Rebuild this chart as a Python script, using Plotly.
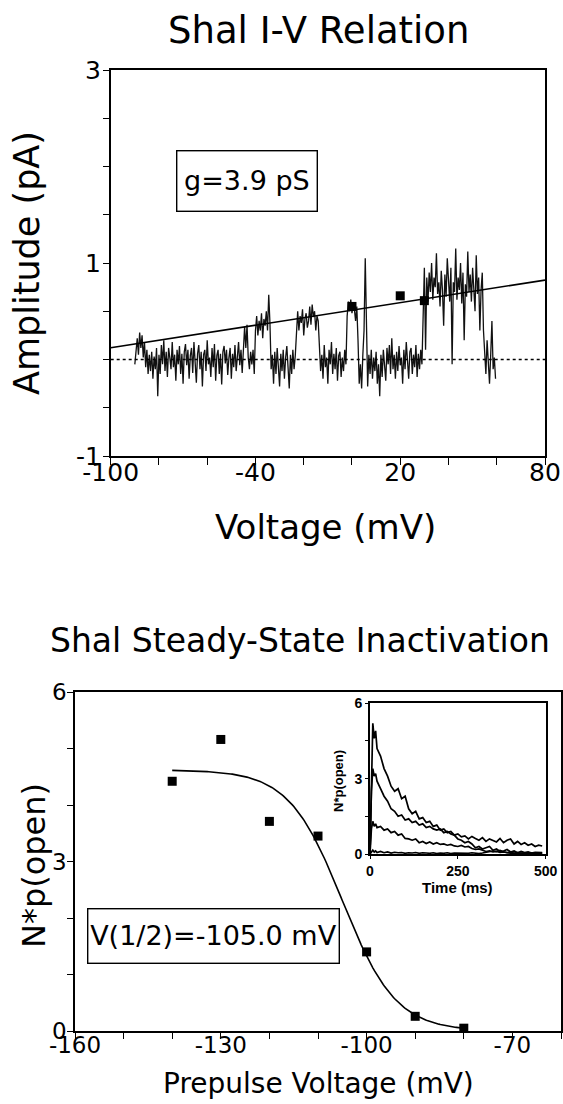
import numpy as np
import plotly.graph_objects as go

W, H = 563, 1104

# ---------------- Top panel data: Shal I-V relation ----------------
G_PS = 3.9            # slope conductance (pS) of fitted line
V_REV = -131.0        # extrapolated reversal (mV) of fitted line
FIT_V_RANGE = [-100, 80]

iv_points_v = [0, 20, 30]
iv_points_amp = [0.55, 0.66, 0.61]

# single-channel ramp trace, segments: (V start, V end, amplitudes)
trace_segments = [
    (-90.0, -79.5, [-0.05, 0.10, 0.22, 0.05, 0.28, 0.12, 0.25, 0.02, 0.18, -0.08, 0.10,
                    -0.15, 0.05, -0.12, 0.08, -0.20, 0.03, -0.10, 0.12, -0.38, 0.05, -0.15]),
    (-79.0, -45.5, [0.15, -0.05, 0.20, -0.12, 0.08, -0.18, 0.12, 0.02, -0.10, 0.18, -0.08, 0.05,
                    -0.22, 0.10, -0.05, 0.14, -0.15, 0.06, -0.25, 0.08, 0.16, -0.06, 0.10, -0.20,
                    0.04, 0.12, -0.14, 0.18, -0.02, -0.24, 0.06, 0.15, -0.10, 0.08, -0.28, 0.05,
                    0.10, -0.12, 0.20, -0.05, 0.02, -0.18, 0.12, -0.08, 0.16, -0.22, 0.04, 0.10,
                    -0.15, 0.06, -0.26, 0.08, 0.14, -0.04, 0.10, -0.16, 0.02, 0.12, -0.20, 0.06,
                    -0.08, 0.15, -0.12, 0.04, 0.18, -0.06, 0.10, -0.14]),
    (-45.0, -42.0, [0.05, 0.34, 0.12, 0.36, 0.02, -0.10, 0.08]),
    (-41.5, -40.5, [-0.05, 0.10, -0.15]),
    (-40.0, -34.0, [0.30, 0.45, 0.25, 0.40, 0.30, 0.48, 0.22, 0.42, 0.35, 0.50, 0.30, 0.67, 0.38]),
    (-33.5, -23.5, [-0.10, 0.05, -0.25, 0.08, -0.15, 0.12, -0.05, -0.28, 0.06, -0.12, 0.10,
                    -0.20, 0.02, 0.14, -0.08, -0.30, 0.05, -0.15, 0.10, -0.10, 0.04]),
    (-23.0, -14.0, [0.35, 0.50, 0.30, 0.45, 0.38, 0.52, 0.25, 0.42, 0.48, 0.33, 0.40, 0.55,
                    0.36, 0.57, 0.44, 0.50, 0.30, 0.45, 0.40]),
    (-13.5, -2.5, [0.10, -0.12, 0.05, -0.20, 0.15, -0.08, 0.02, -0.25, 0.10, -0.05, 0.18, -0.15,
                   0.06, -0.10, 0.12, -0.22, 0.04, 0.08, -0.18, 0.02, -0.12, 0.10, -0.05]),
    (-2.0, 2.5, [0.45, 0.60, 0.50, 0.62, 0.48, 0.58, 0.52, 0.40, 0.55, 0.20]),
    (3.0, 4.5, [-0.25, -0.05, -0.30, 0.05]),
    (5.0, 6.5, [0.30, 1.05, 0.20, -0.28]),
    (7.0, 29.0, [0.05, -0.15, 0.10, -0.20, 0.02, -0.12, 0.08, -0.25, -0.05, -0.38, 0.05, -0.18,
                 0.10, -0.08, -0.22, 0.12, -0.05, 0.15, -0.15, 0.22, -0.10, 0.05, -0.20, 0.08,
                 -0.12, 0.14, -0.06, 0.02, -0.25, 0.10, -0.10, 0.18, -0.05, -0.20, 0.08, 0.12,
                 -0.15, 0.05, -0.08, 0.15, -0.18, 0.06, -0.10, 0.10, -0.05]),
    (29.5, 54.0, [0.55, 0.95, 0.10, 0.85, 0.60, 0.90, 0.70, 1.00, 0.62, 0.85, 0.75, 1.10, 0.68,
                  0.80, 0.55, 0.92, 0.72, 0.35, 0.88, 0.65, 1.05, 0.75, 0.60, 0.95, -0.05, 0.80,
                  0.70, 1.15, 0.62, 0.85, 0.72, 1.00, 0.58, 0.90, 0.20, 0.78, 0.65, 1.12, 0.70,
                  0.88, 0.60, 0.95, 0.75, 0.50, 1.08, 0.68, 0.85, 0.30, 0.72, 0.90]),
    (54.5, 59.5, [0.30, 0.10, -0.15, 0.20, -0.05, -0.25, 0.05, 0.40, -0.10, 0.02, -0.20]),
]

iv_xticks = [-100, -80, -60, -40, -20, 0, 20, 40, 60, 80]
iv_xticktext = ["-100", "", "", "-40", "", "", "20", "", "", "80"]
iv_yticks = [-1, -0.5, 0, 0.5, 1, 1.5, 2, 2.5, 3]
iv_yticktext = ["-1", "", "", "", "1", "", "", "", "3"]

# ---------------- Bottom panel data: steady-state inactivation ----------------
prepulse_v = [-140, -130, -120, -110, -100, -90, -80]
np_open = [4.42, 5.16, 3.71, 3.45, 1.40, 0.26, 0.05]
V_HALF = -105.0
SLOPE_K = 5.5
N_MAX = 4.62
FIT_RANGE = [-140, -80]

ss_xticks = [-160, -150, -140, -130, -120, -110, -100, -90, -80, -70, -60]
ss_xticktext = ["-160", "", "", "-130", "", "", "-100", "", "", "-70", ""]
ss_yticks = [0, 1, 2, 3, 4, 5, 6]
ss_yticktext = ["0", "", "", "3", "", "", "6"]

# ---------------- Inset data: N*p(open) vs time ----------------
inset_t = [0, 4, 8, 12, 16] + list(range(20, 500, 10))
inset_a = [0.0, 3.5, 5.2, 4.6, 4.9, 4.2, 3.9, 3.4, 3.1, 2.7, 2.5, 2.6, 2.2, 2.3, 1.8, 1.6, 1.7,
           1.4, 1.45, 1.25, 1.3, 1.1, 1.15, 0.95, 1.0, 0.85, 0.9, 0.75, 0.8, 0.68, 0.72, 0.6,
           0.7, 0.62, 0.55, 0.65, 0.5, 0.6, 0.55, 0.48, 0.62, 0.45, 0.55, 0.6, 0.4, 0.5, 0.38,
           0.45, 0.35, 0.4, 0.3, 0.35, 0.32]
inset_b = [0.0, 2.5, 3.4, 3.1, 3.2, 2.9, 2.6, 2.3, 2.1, 1.8, 1.7, 1.5, 1.55, 1.35, 1.4, 1.25,
           1.3, 1.15, 1.2, 1.05, 1.1, 1.0, 0.95, 1.0, 0.85, 0.9, 0.8, 0.75, 0.6, 0.55, 0.45, 0.5,
           0.4, 0.25, 0.3, 0.2, 0.25, 0.3, 0.15, 0.2, 0.1, 0.12, 0.18, 0.08, 0.12, 0.05, 0.1,
           0.06, 0.08, 0.04, 0.07, 0.05, 0.06]
inset_c = [0.0, 1.0, 1.3, 1.1, 1.2, 1.05, 1.1, 0.95, 1.0, 0.85, 0.9, 0.75, 0.8, 0.62, 0.6, 0.55,
           0.6, 0.45, 0.5, 0.42, 0.48, 0.4, 0.45, 0.38, 0.4, 0.35, 0.38, 0.32, 0.3, 0.34, 0.28,
           0.3, 0.22, 0.18, 0.2, 0.14, 0.1, 0.12, 0.08, 0.1, 0.06, 0.08, 0.05, 0.07, 0.04, 0.06,
           0.04, 0.05, 0.03, 0.05, 0.04, 0.03, 0.04]
inset_d = [0.0, 0.10, 0.15, 0.08, 0.12, 0.06, 0.10, 0.05, 0.08, 0.04, 0.07, 0.05, 0.06, 0.03,
           0.05, 0.04, 0.06, 0.03, 0.05, 0.04, 0.03, 0.05, 0.02, 0.04, 0.03, 0.05, 0.02, 0.04,
           0.03, 0.02, 0.04, 0.03, 0.05, 0.03, 0.02, 0.04, 0.06, 0.08, 0.12, 0.10, 0.14, 0.09,
           0.05, 0.03, 0.02, 0.04, 0.03, 0.02, 0.03, 0.02, 0.03, 0.02, 0.03]
inset_xticks = [0, 250, 500]
inset_yticks = [0, 1.5, 3, 4.5, 6]
inset_yticktext = ["0", "", "3", "", "6"]

# ---------------- Figure ----------------
FONT = "DejaVu Sans"
BOLD = "Liberation Sans"
BLACK = "#000000"

def px(x):
    return x / W

def py(y):
    return 1 - y / H

fig = go.Figure()

# top panel
tv, ta = [], []
for v0, v1, vals in trace_segments:
    tv.extend(np.linspace(v0, v1, len(vals)).tolist())
    ta.extend(vals)
fig.add_trace(go.Scatter(x=tv, y=ta, mode="lines", line=dict(color="#111111", width=1.3),
                         xaxis="x", yaxis="y", hoverinfo="skip"))
fig.add_trace(go.Scatter(x=FIT_V_RANGE, y=[0, 0], mode="lines",
                         line=dict(color=BLACK, width=1.4, dash="dot"), xaxis="x", yaxis="y"))
fit_v = np.array(FIT_V_RANGE, dtype=float)
fig.add_trace(go.Scatter(x=fit_v, y=G_PS / 1000 * (fit_v - V_REV), mode="lines",
                         line=dict(color=BLACK, width=1.6), xaxis="x", yaxis="y"))
fig.add_trace(go.Scatter(x=iv_points_v, y=iv_points_amp, mode="markers",
                         marker=dict(symbol="square", size=9, color=BLACK), xaxis="x", yaxis="y"))

# bottom panel
fv = np.linspace(FIT_RANGE[0], FIT_RANGE[1], 200)
fig.add_trace(go.Scatter(x=fv, y=N_MAX / (1 + np.exp((fv - V_HALF) / SLOPE_K)), mode="lines",
                         line=dict(color=BLACK, width=1.6), xaxis="x2", yaxis="y2"))
fig.add_trace(go.Scatter(x=prepulse_v, y=np_open, mode="markers",
                         marker=dict(symbol="square", size=9, color=BLACK), xaxis="x2", yaxis="y2"))

# inset
for tr in (inset_a, inset_b, inset_c, inset_d):
    fig.add_trace(go.Scatter(x=inset_t, y=tr, mode="lines", line=dict(color=BLACK, width=1.7),
                             xaxis="x3", yaxis="y3"))

axis_common = dict(showgrid=False, zeroline=False, showline=True, linecolor=BLACK, linewidth=1.6,
                   mirror=True, ticks="outside", tickcolor=BLACK, tickwidth=1.4, tickmode="array",
                   automargin=False)

fig.update_layout(
    width=W, height=H, autosize=False, showlegend=False,
    margin=dict(l=0, r=0, t=0, b=0, pad=0, autoexpand=False),
    paper_bgcolor="white", plot_bgcolor="white",
    xaxis=dict(**axis_common, domain=[px(110.7), px(545)], range=[-100, 80], ticklen=7,
               tickvals=iv_xticks, ticktext=iv_xticktext, anchor="y", ticklabelstandoff=-14,
               tickfont=dict(family=FONT, size=25, color=BLACK)),
    yaxis=dict(**axis_common, domain=[py(456), py(70)], range=[-1, 3], ticklen=6,
               tickvals=iv_yticks, ticktext=iv_yticktext, anchor="x", ticklabelstandoff=-3,
               tickfont=dict(family=FONT, size=25, color=BLACK)),
    xaxis2=dict(**axis_common, domain=[px(75), px(561)], range=[-160, -60], ticklen=6,
                tickvals=ss_xticks, ticktext=ss_xticktext, anchor="y2", ticklabelstandoff=-13,
                tickfont=dict(family=FONT, size=23, color=BLACK)),
    yaxis2=dict(**axis_common, domain=[py(1031), py(692)], range=[0, 6], ticklen=6,
                tickvals=ss_yticks, ticktext=ss_yticktext, anchor="x2", ticklabelstandoff=-4,
                tickfont=dict(family=FONT, size=23, color=BLACK)),
    xaxis3=dict(**axis_common, domain=[px(370), px(545.7)], range=[0, 500], ticklen=3,
                tickvals=inset_xticks, ticktext=[str(t) for t in inset_xticks], anchor="y3",
                tickfont=dict(family=BOLD, size=14, color=BLACK, weight="bold")),
    yaxis3=dict(**axis_common, domain=[py(854), py(703.3)], range=[0, 6], ticklen=3,
                tickvals=inset_yticks, ticktext=inset_yticktext, anchor="x3",
                tickfont=dict(family=BOLD, size=14, color=BLACK, weight="bold")),
)

def label(text, x, y, size, angle=0, family=FONT, bold=False):
    fig.add_annotation(text=text, x=px(x), y=py(y), xref="paper", yref="paper",
                       xanchor="center", yanchor="middle", showarrow=False, textangle=angle,
                       font=dict(family=family, size=size, color=BLACK,
                                 weight="bold" if bold else "normal"))

label("Shal I-V Relation", 318, 30, 37)
label("Amplitude (pA)", 27, 263, 35, angle=-90)
label("Voltage (mV)", 325, 527, 34)
label("Shal Steady-State Inactivation", 300, 640, 33)
label("N*p(open)", 34, 866, 32, angle=-90)
label("Prepulse Voltage (mV)", 318, 1083, 28)
label("N*p(open)", 338, 781, 13, angle=-90, family=BOLD, bold=True)
label("Time (ms)", 457, 887, 15, family=BOLD, bold=True)

# boxed fit annotations
fig.add_annotation(text="g=3.9 pS", x=px(246.5), y=py(181.5), xref="paper", yref="paper",
                   xanchor="center", yanchor="middle", showarrow=False,
                   width=139, height=59, borderpad=0, bordercolor=BLACK, borderwidth=1.4,
                   bgcolor="white", font=dict(family=FONT, size=27, color=BLACK))
fig.add_annotation(text="V(1/2)=-105.0 mV", x=px(213), y=py(935.5), xref="paper", yref="paper",
                   xanchor="center", yanchor="middle", showarrow=False,
                   width=250, height=53, borderpad=0, bordercolor=BLACK, borderwidth=1.4,
                   bgcolor="white", font=dict(family=FONT, size=27, color=BLACK))

# place the figure flush with the page corner (no default body margin / scrollbars)
PAGE_JS = ("document.body.style.margin='0';"
           "document.body.style.overflow='hidden';"
           "document.documentElement.style.overflow='hidden';")

fig.write_html("out.html", post_script=PAGE_JS, config={"displayModeBar": False})
